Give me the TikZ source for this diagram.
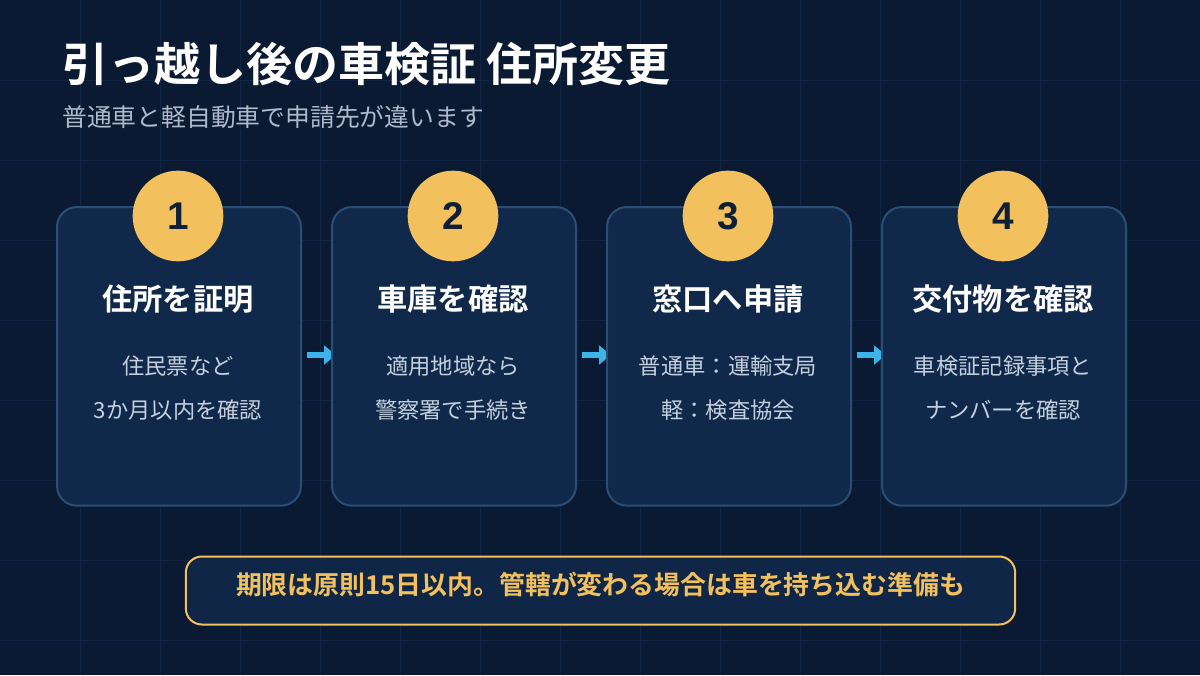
\documentclass[tikz,border=0pt]{standalone}
\usetikzlibrary{arrows.meta}
\usepackage{fontspec}
\setmainfont{Noto Sans CJK JP}
\newfontfamily\jpb{Noto Sans CJK JP Bold}
\newfontfamily\numf{Liberation Sans}
\definecolor{bg}{HTML}{0A1A32}
\definecolor{gridc}{HTML}{112645}
\definecolor{cardf}{HTML}{10284A}
\definecolor{cardb}{HTML}{2B4E75}
\definecolor{gold}{HTML}{F2C05C}
\definecolor{navy}{HTML}{0F1F38}
\definecolor{sub}{HTML}{AEBACB}
\definecolor{body}{HTML}{C5D0DE}
\definecolor{arr}{HTML}{3DB4E8}
\begin{document}
\begin{tikzpicture}[x=0.75pt,y=-0.75pt,
 card/.style={draw=cardb,line width=1.5pt,fill=cardf,rounded corners=15pt,minimum width=183pt,minimum height=224pt,anchor=north west,inner sep=0},
 num/.style={circle,fill=gold,minimum size=68pt,inner sep=0,font=\numf\bfseries\fontsize{29}{30}\selectfont,text=navy},
 ttl/.style={font=\jpb\fontsize{22.7}{25}\selectfont,text=white},
 bod/.style={font=\fontsize{16.7}{33}\selectfont,text=body,align=center},
 ar/.style={arr,line width=5pt,-{Triangle[length=9pt,width=14pt]}}]
\useasboundingbox[fill=bg] (0,0) rectangle (1200,675);
\foreach \i in {1,...,14} \draw[gridc,line width=0.75pt] (\i*80,0) -- (\i*80,675);
\foreach \i in {1,...,8} \draw[gridc,line width=0.75pt] (0,\i*80) -- (1200,\i*80);
\node[anchor=west,font=\jpb\fontsize{34.5}{38}\selectfont,text=white,inner sep=0] (t) at (62,64) {引っ越し後の車検証 住所変更};
\node[anchor=west,font=\fontsize{18.6}{22}\selectfont,text=sub,inner sep=0] (s) at (62,117) {普通車と軽自動車で申請先が違います};
\foreach \k/\x in {1/307,2/582,3/857}
  \coordinate (a\k) at (\x,355);
\foreach \k/\x in {1/336,2/611,3/886}
  \coordinate (b\k) at (\x,355);
\foreach \k in {1,2,3} \draw[ar] (a\k) -- (b\k);
\foreach \k/\x/\tt/\ba/\bb in {1/56/住所を証明/住民票など/3か月以内を確認,2/331/車庫を確認/適用地域なら/警察署で手続き,3/606/窓口へ申請/普通車：運輸支局/軽：検査協会,4/881/交付物を確認/車検証記録事項と/ナンバーを確認}{
  \node[card] (c\k) at (\x,206) {};
  \node[num] (n\k) at (\x+122,216) {\k};
  \node[ttl] (h\k) at (\x+122,299) {\tt};
  \node[bod] (d\k) at (\x+122,388) {\ba\\\bb};
}
\node[draw=gold,line width=1.5pt,fill=cardf!85!bg,rounded corners=12pt,minimum width=622pt,minimum height=51pt,font=\jpb\fontsize{19.4}{22}\selectfont,text=gold] (note) at (600.5,590.5) {};
\node[font=\jpb\fontsize{19.4}{22}\selectfont,text=gold] (nt) at (600.5,585) {期限は原則15日以内。管轄が変わる場合は車を持ち込む準備も};
\end{tikzpicture}
\end{document}
